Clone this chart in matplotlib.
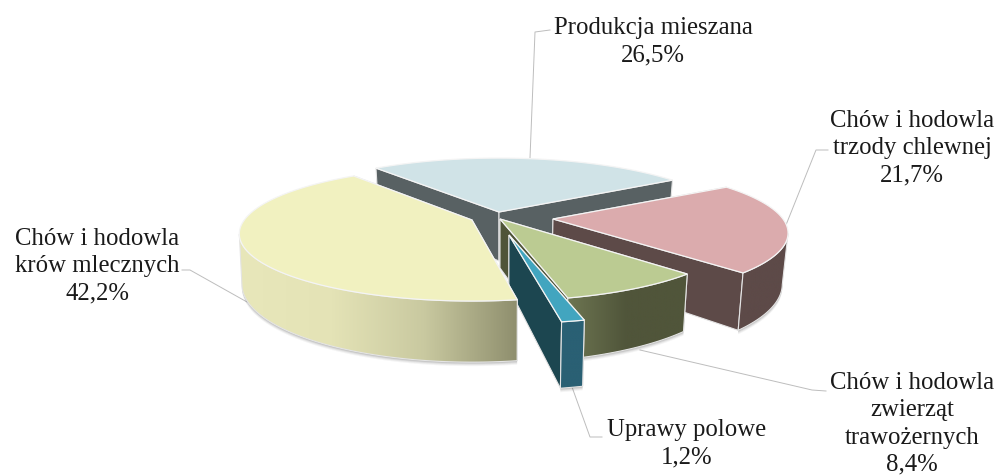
import numpy as np
import matplotlib
matplotlib.use('Agg')
import matplotlib.pyplot as plt
from matplotlib.colors import LinearSegmentedColormap
from matplotlib.patches import Polygon

# Slices in clockwise order, starting with the one at the back
categories = ['Produkcja mieszana', 'Chów i hodowla\ntrzody chlewnej',
              'Chów i hodowla\nzwierząt\ntrawożernych', 'Uprawy polowe',
              'Chów i hodowla\nkrów mlecznych']
values = [26.5, 21.7, 8.4, 1.2, 42.2]

# where each label sits and its leader line (pixels)
label_pos = [(653, 42), (912, 148), (912, 424), (687, 444), (97, 266)]
leaders = [[(530, 158), (535, 32), (550, 30)],
           [(786, 225), (816, 150), (828, 150)],
           [(640, 350), (812, 390), (826, 391)],
           [(572, 387), (590, 437), (602, 437)],
           [(247, 302), (190, 270), (182, 270)]]

# look of each slice
apex = [(499, 212), (553, 219), (500, 219), (509, 235), (472, 220)]
scale = [1.0, 1.0, 1.0, 1.08, 0.99]
shrink = [0.98, 0.98, 0.98, 0.98, 0.99]
angle_shift = [0, 0, 1.0, 0.6, 1.2]
top_col = ['#D0E3E7', '#DBABAD', '#BBCB92', '#42A5BF', '#F1F1C0']
side_col = ['#586163', '#5D4A48', '#4F5438', '#1C4650', '#C8C8A0']
arc_col = [['#586163', '#586163'], ['#5D4A48', '#5D4A48'],
           ['#6E7652', '#50553A', '#50553A'], ['#2A6074', '#2A6074'],
           ['#E8E7BA', '#E4E3B6', '#C9C9A0', '#8F8F6E']]

start_angle = 231.6
rx, ry, p = 230, 65, 0.206
wall = 49
mid_x = 500


def top_xy(i, a):
    a = np.radians(a)
    w = 1 - p * np.sin(a)
    return (apex[i][0] + scale[i] * rx * np.cos(a) / w,
            apex[i][1] + scale[i] * ry * np.sin(a) / w)


def bottom_xy(i, x, y, a):
    h = scale[i] * wall / (1 - p * np.sin(np.radians(a)))
    return mid_x + (x - mid_x) * shrink[i], y + h


fig = plt.figure(figsize=(9.95, 4.76), dpi=100)
ax = fig.add_axes([0, 0, 1, 1])
ax.set_xlim(0, 995)
ax.set_ylim(476, 0)
ax.axis('off')

for pts in leaders:
    ax.plot([q[0] for q in pts], [q[1] for q in pts], color='#BDBDBD', lw=0.7, zorder=1)

sweeps = np.array(values) / sum(values) * 360
starts = start_angle + np.concatenate([[0], np.cumsum(sweeps)[:-1]])
edge = '#E4E4E4'
z = 2
for i in range(len(values)):
    a0 = starts[i] + angle_shift[i]
    a1 = a0 + sweeps[i]
    ang = np.linspace(a0, a1, 160)
    tx, ty = top_xy(i, ang)
    ap = apex[i]
    ap_bottom = (mid_x + (ap[0] - mid_x) * shrink[i], ap[1] + wall * scale[i])

    # part of the rim that faces the viewer
    vis = ((ang % 360) > 12) & ((ang % 360) < 168)
    rim = None
    if vis.any():
        bx, by = bottom_xy(i, tx[vis], ty[vis], ang[vis])
        rim = np.vstack([np.column_stack([tx[vis], ty[vis]]),
                         np.column_stack([bx, by])[::-1]])
        # soft shadow under the rim
        for off, al in [(4, 0.05), (3, 0.07), (2, 0.10), (1, 0.14)]:
            sh = np.column_stack([bx, by + off])
            sh = np.vstack([sh, np.column_stack([bx, by - 8])[::-1]])
            ax.add_patch(Polygon(sh, closed=True, fc='#303030', ec='none', alpha=al, zorder=z))
        z += 1

    # straight walls from the apex to the rim
    for a, x, y in sorted([(a0, tx[0], ty[0]), (a1, tx[-1], ty[-1])], key=lambda t: t[2]):
        bx0, by0 = bottom_xy(i, x, y, a)
        quad = [ap, (x, y), (bx0, by0), ap_bottom]
        ax.add_patch(Polygon(quad, closed=True, fc=side_col[i], ec=edge, lw=0.8, zorder=z))
        z += 1

    if rim is not None:
        cmap = LinearSegmentedColormap.from_list('rim', arc_col[i])
        x0, x1 = rim[:, 0].min(), rim[:, 0].max()
        grad = np.linspace(0, 1, 256)[None, :]
        im = ax.imshow(grad, cmap=cmap, extent=(x0, x1, rim[:, 1].max(), rim[:, 1].min()),
                       aspect='auto', zorder=z)
        outline = Polygon(rim, closed=True, fc='none', ec=edge, lw=0.8, zorder=z + 1)
        ax.add_patch(outline)
        im.set_clip_path(outline)
        z += 2

    top = np.vstack([[ap], np.column_stack([tx, ty])])
    ax.add_patch(Polygon(top, closed=True, fc=top_col[i], ec='#F4F4F4', lw=0.9, zorder=z))
    z += 1

ax.set_xlim(0, 995)
ax.set_ylim(476, 0)

for name, val, pos in zip(categories, values, label_pos):
    txt = name + '\n' + f'{val:.1f}'.replace('.', ',') + '%'
    ax.text(pos[0], pos[1], txt, ha='center', va='center', fontsize=17.8,
            family='Liberation Serif', color='#1A1A1A', linespacing=1.3, zorder=z)

fig.savefig('out.png', dpi=100)
